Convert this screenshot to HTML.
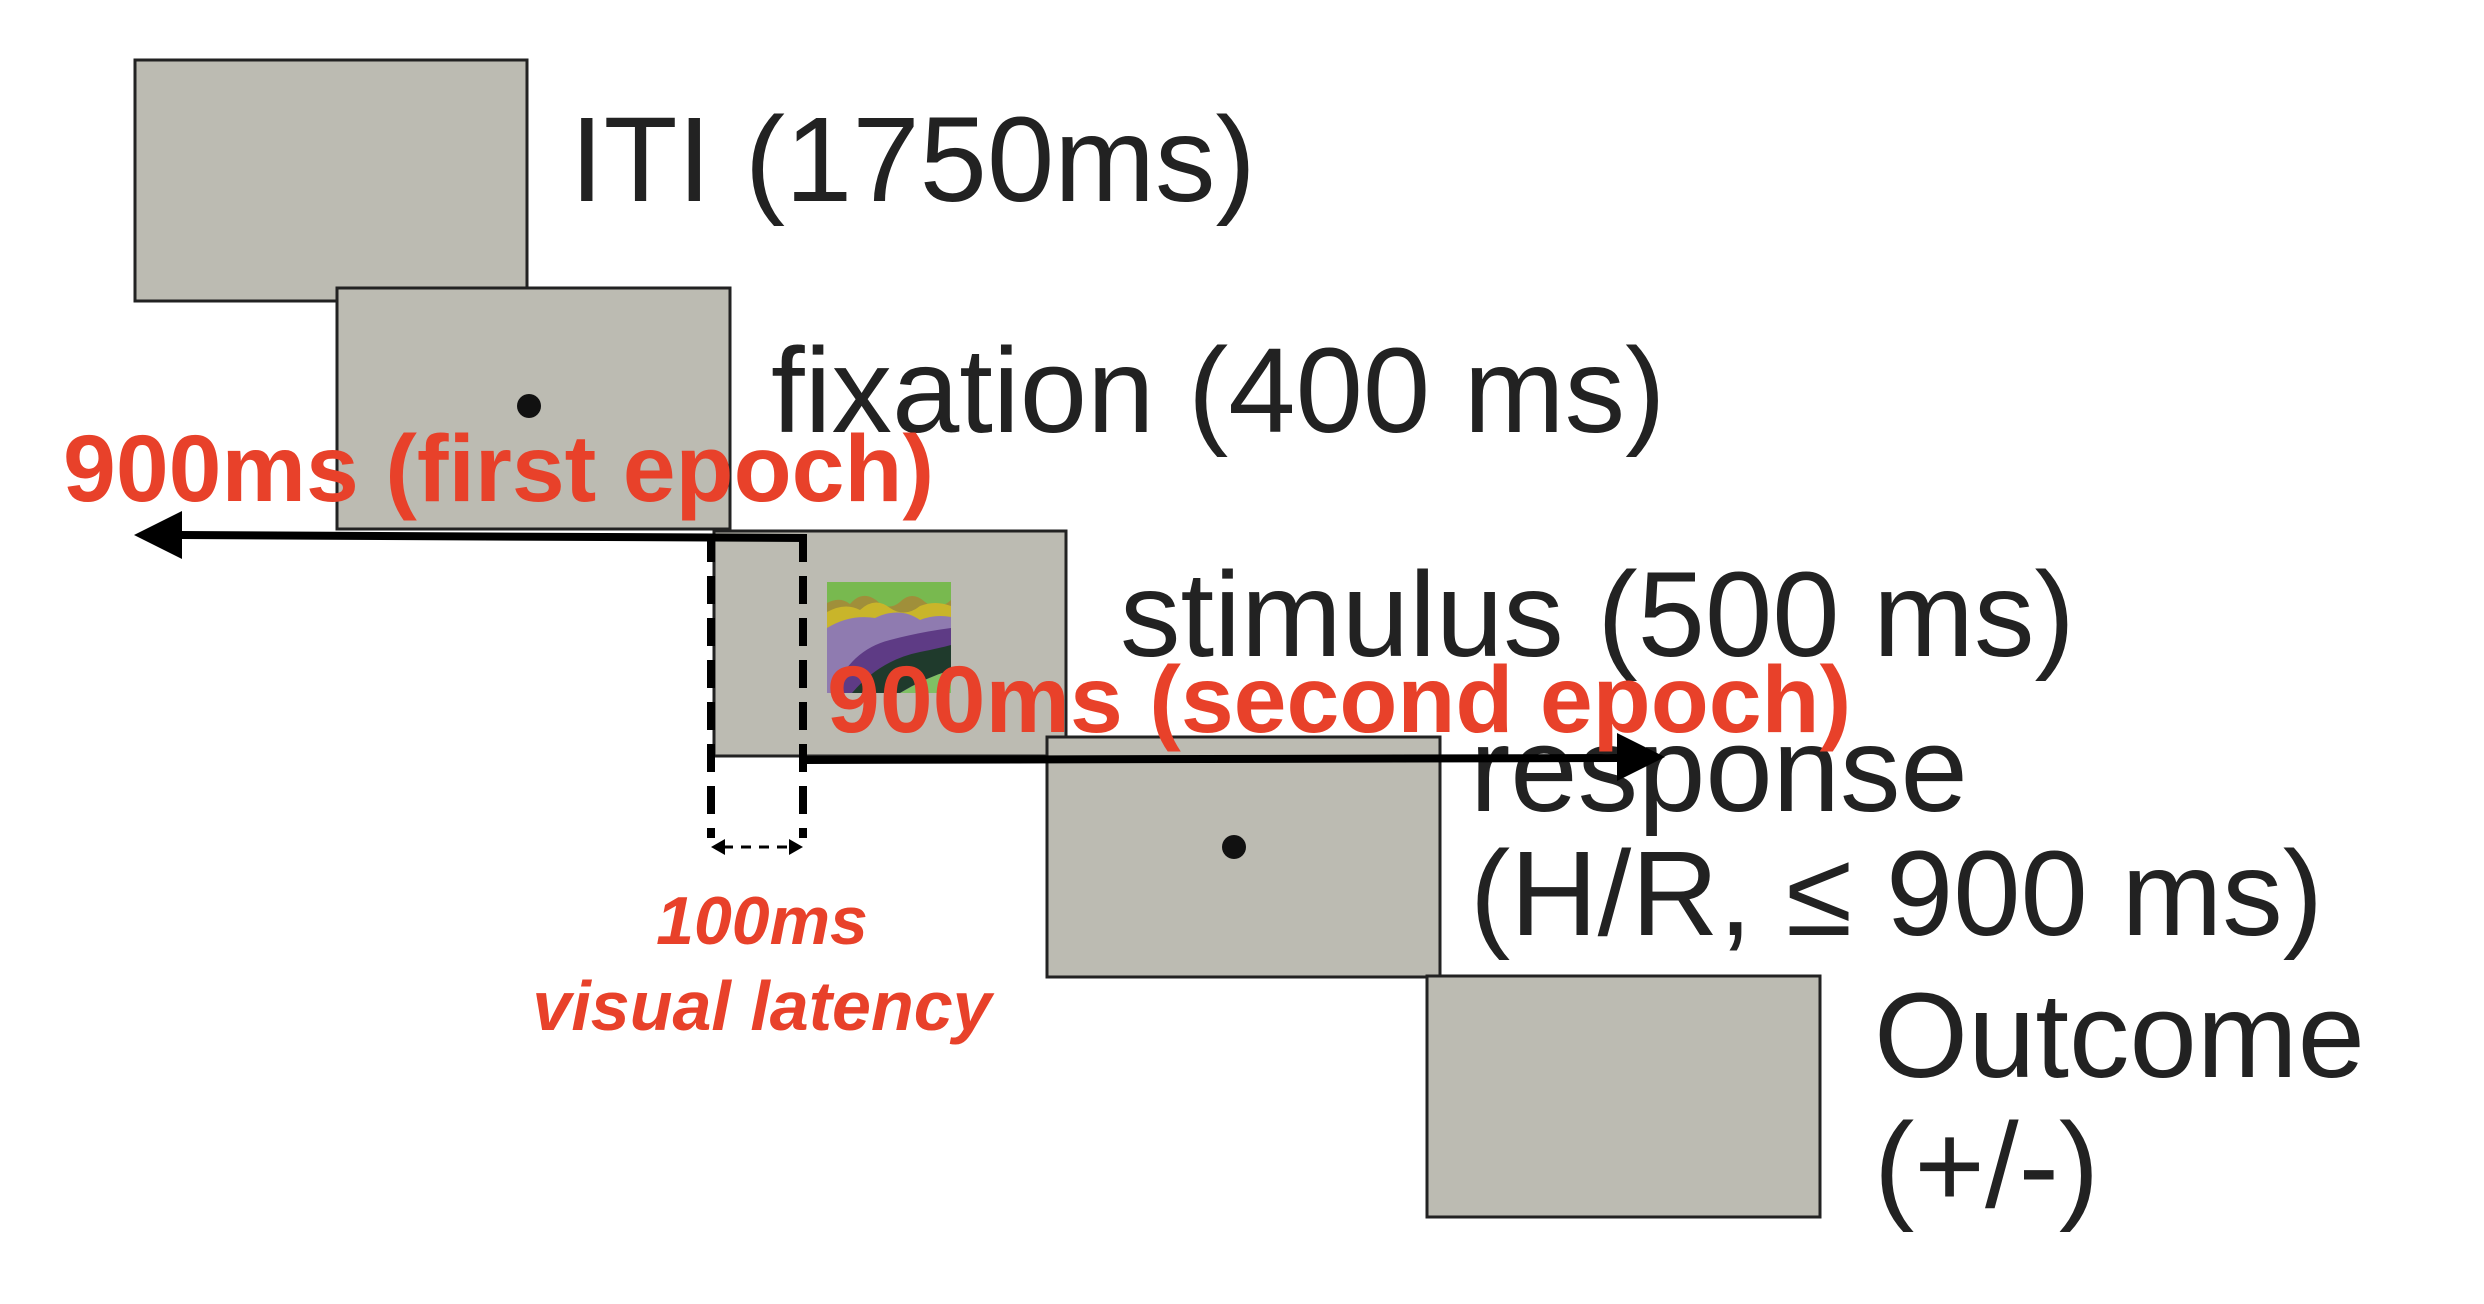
<!DOCTYPE html>
<html><head><meta charset="utf-8"><style>
html,body{margin:0;padding:0;background:#fff;}
svg{display:block;}
.lbl{font-family:"Liberation Sans",Arial,sans-serif;fill:#222;font-size:121px;}
.red{font-family:"Liberation Sans",Arial,sans-serif;fill:#e8412a;font-weight:bold;}
</style></head><body>
<svg width="2484" height="1304" viewBox="0 0 2484 1304">
<g><rect x="135" y="60" width="392" height="241" fill="#bcbbb2" stroke="#222" stroke-width="3"/></g>
<g><rect x="337" y="288" width="393" height="241" fill="#bcbbb2" stroke="#222" stroke-width="3"/><circle cx="529" cy="406" r="12" fill="#111"/></g>
<g><rect x="714" y="531" width="352" height="225" fill="#bcbbb2" stroke="#222" stroke-width="3"/>
<g>
<rect x="827" y="582" width="124" height="111" fill="#78b94f"/>
<path d="M827 603 Q840 596 850 604 Q862 590 876 600 Q888 612 900 602 Q912 590 925 602 Q938 612 951 600 L951 693 L827 693Z" fill="#a08f3a"/>
<path d="M827 612 Q845 602 860 610 Q875 596 890 608 Q905 618 920 606 Q935 600 951 606 L951 693 L827 693Z" fill="#c9b52a"/>
<path d="M827 628 Q850 614 875 618 Q900 606 920 620 Q935 614 951 617 L951 693 L827 693Z" fill="#8f7bb0"/>
<path d="M833 693 Q850 650 890 640 Q920 632 951 628 L951 693Z" fill="#5e3b85"/>
<path d="M852 693 Q880 660 920 652 Q940 648 951 645 L951 670 Q920 680 900 693Z" fill="#1f3a2c"/>
<path d="M900 693 Q925 678 951 670 L951 693Z" fill="#7fc064"/>
</g></g>
<g><rect x="1047" y="737" width="393" height="240" fill="#bcbbb2" stroke="#222" stroke-width="3"/><circle cx="1234" cy="847" r="12" fill="#111"/></g>
<g><rect x="1427" y="976" width="393" height="241" fill="#bcbbb2" stroke="#222" stroke-width="3"/></g>

<text class="lbl" x="570" y="201">ITI (1750ms)</text>
<text class="lbl" x="771" y="432">fixation (400 ms)</text>
<text class="lbl" x="1120" y="656">stimulus (500 ms)</text>
<text class="lbl" x="1470" y="811">response</text>
<text class="lbl" x="1470" y="935">(H/R, ≤ 900 ms)</text>
<text class="lbl" x="1874" y="1077">Outcome</text>
<text class="lbl" x="1874" y="1207">(+/-)</text>

<g stroke="#000" stroke-width="8" fill="none">
<line x1="711" y1="534" x2="711" y2="838" stroke-dasharray="28,14"/>
<line x1="803" y1="534" x2="803" y2="838" stroke-dasharray="28,14"/>
</g>
<g>
<line x1="723" y1="847" x2="791" y2="847" stroke="#000" stroke-width="3" stroke-dasharray="10,8"/>
<polygon points="711,847 725,839 725,855" fill="#000"/><polygon points="803,847 789,839 789,855" fill="#000"/>
</g>
<g>
<path d="M807 538 L180 535" stroke="#000" stroke-width="8"/>
<polygon points="134,535 182,511 182,559" fill="#000"/>
</g>
<g>
<path d="M803 760 L1620 758" stroke="#000" stroke-width="8"/>
<polygon points="1665,757 1617,733 1617,781" fill="#000"/>
</g>

<text class="red" x="63" y="501" font-size="95">900ms (first epoch)</text>
<text class="red" x="827" y="732" font-size="95">900ms (second epoch)</text>
<text class="red" x="762" y="944" font-size="68" font-style="italic" text-anchor="middle">100ms</text>
<text class="red" x="762" y="1030" font-size="70" font-style="italic" text-anchor="middle">visual latency</text>
</svg>
</body></html>
